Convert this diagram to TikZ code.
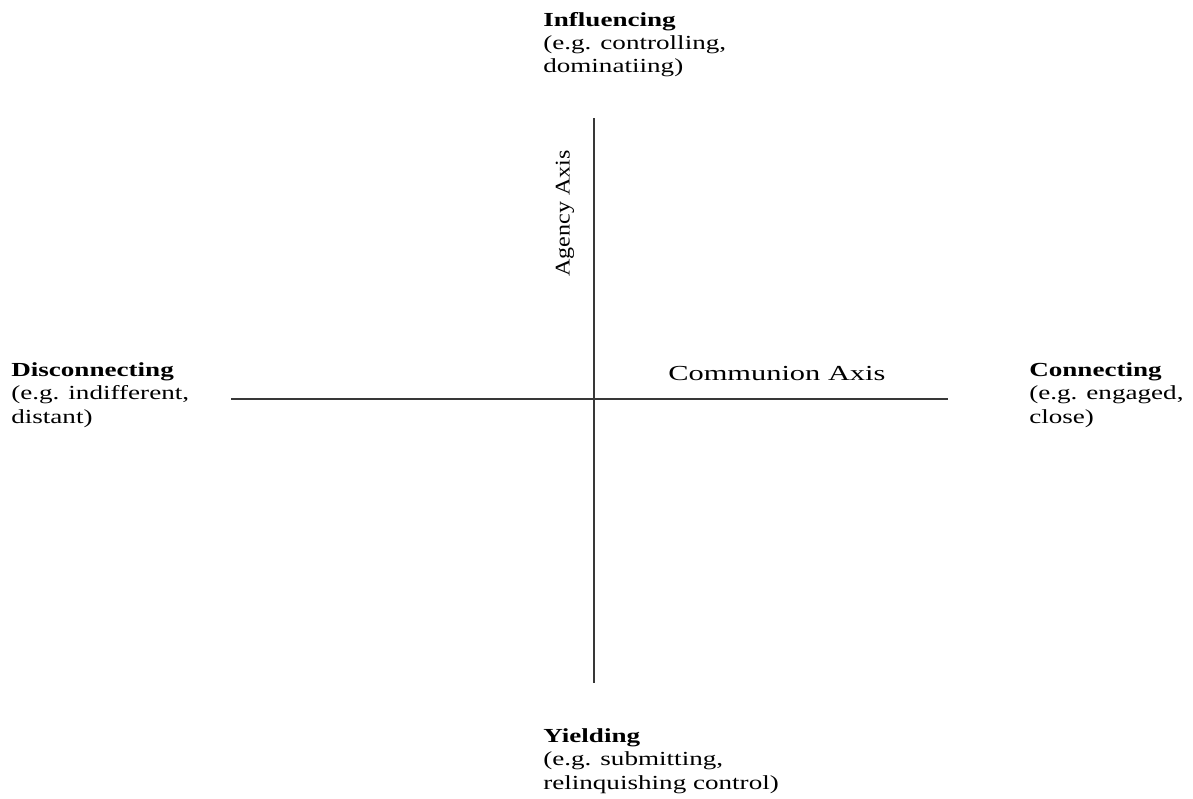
\documentclass[tikz,border=0pt]{standalone}
\usepackage{fontspec}
\setmainfont{Liberation Serif}
\begin{document}
\begin{tikzpicture}[x=1bp,y=-1bp,
  axisline/.style={line width=2bp,draw=black!78},
  pole/.style={anchor=base west,inner sep=0pt,align=left,xscale=1.36,
    font=\fontsize{20}{23.3}\selectfont},
  axislabel/.style={anchor=base west,inner sep=0pt,xscale=1.42,
    font=\fontsize{21.5}{25}\selectfont}]
\useasboundingbox (0,0) rectangle (1193,799);
\coordinate (vtop) at (593.5,118);
\coordinate (vbot) at (593.5,683);
\coordinate (hleft) at (231,398.5);
\coordinate (hright) at (948,398.5);
\draw[axisline] (vtop) -- (vbot);
\draw[axisline] (hleft) -- (hright);
% anchor base of a multi-line node = baseline of its last line
\node[pole] (infl) at (543,73) {\textbf{Influencing}\\(e.g. controlling,\\dominatiing)};
\node[pole] (disc) at (11,423) {\textbf{Disconnecting}\\(e.g. indifferent,\\distant)};
\node[pole] (conn) at (1029,423) {\textbf{Connecting}\\(e.g. engaged,\\close)};
\node[pole] (yield) at (543,789) {\textbf{Yielding}\\(e.g. submitting,\\relinquishing control)};
\node[axislabel] (comm) at (668,380) {Communion Axis};
\node[anchor=base west,inner sep=0pt,rotate=90,xscale=1.15,
  font=\fontsize{21}{25}\selectfont] (agency) at (569.5,277) {Agency Axis};
\end{tikzpicture}
\end{document}
